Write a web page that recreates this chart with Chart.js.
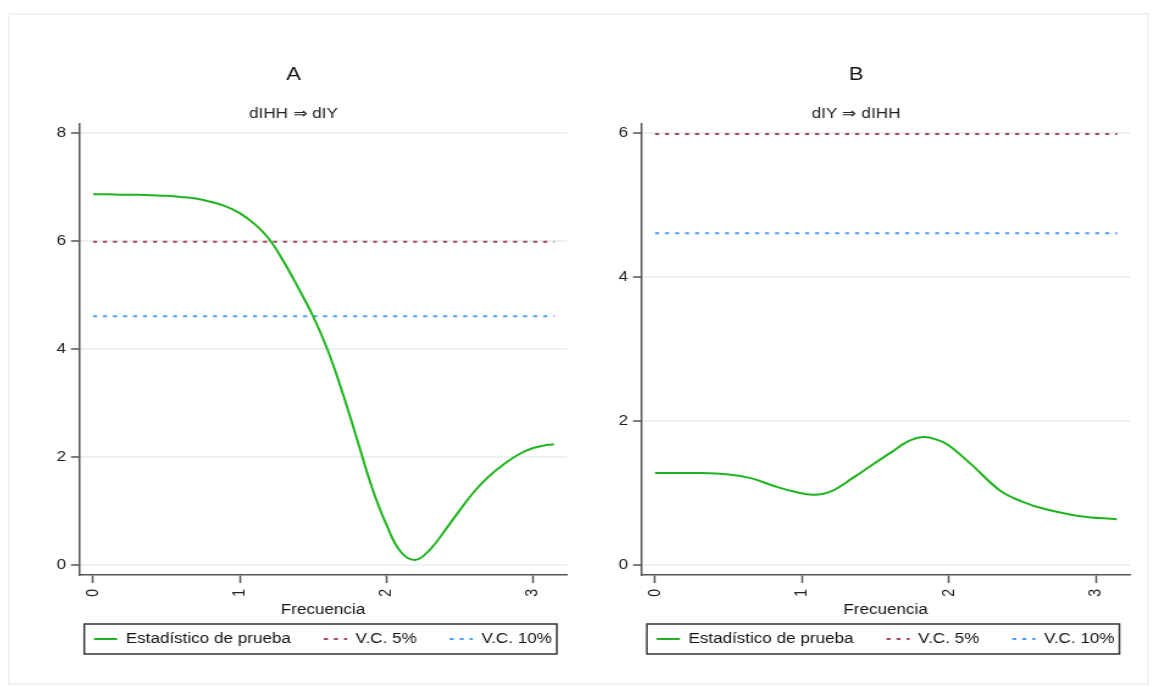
<!DOCTYPE html>
<html>
<head>
<meta charset="utf-8">
<script src="https://cdn.jsdelivr.net/npm/chart.js@4"></script>
<style>
    body { margin: 0; background: #fff; width: 1157px; height: 687px; position: relative; overflow: hidden; }
    #frame { position: absolute; left: 8px; top: 13px; width: 1141px; height: 672px; border: 2px solid #eef2f2; box-sizing: border-box; }
    /* the original picture is stretched sideways, so each panel is drawn narrow and widened */
    .panel { position: absolute; top: 50px; height: 620px; transform: scaleX(1.22); transform-origin: 0 0; }
    #panelA { left: 20px; width: 463px; }
    #panelB { left: 582px; width: 464px; }
</style>
</head>
<body>
<div id="frame"></div>
<div class="panel" id="panelA"><canvas id="chartA"></canvas></div>
<div class="panel" id="panelB"><canvas id="chartB"></canvas></div>
<script>
// frequencies and test statistic, panel A (dIHH => dIY)
const freqA = [0, 0.1, 0.2, 0.3, 0.4, 0.5, 0.6, 0.7, 0.8, 0.9, 1.0, 1.1, 1.2, 1.3, 1.4, 1.5, 1.6, 1.7, 1.8, 1.9, 2.0, 2.1, 2.2, 2.3, 2.4, 2.5, 2.6, 2.7, 2.8, 2.9, 3.0, 3.1, 3.14];
const statA = [6.87, 6.87, 6.86, 6.86, 6.85, 6.84, 6.82, 6.79, 6.73, 6.65, 6.52, 6.32, 6.04, 5.62, 5.13, 4.61, 3.98, 3.2, 2.33, 1.45, 0.75, 0.24, 0.1, 0.3, 0.65, 1.02, 1.37, 1.65, 1.87, 2.05, 2.17, 2.23, 2.24];

// panel B (dIY => dIHH)
const freqB = [0, 0.3, 0.5, 0.65, 0.81, 0.95, 1.08, 1.2, 1.35, 1.48, 1.6, 1.72, 1.82, 1.92, 2.0, 2.15, 2.35, 2.5, 2.65, 2.89, 3.14];
const statB = [1.28, 1.28, 1.26, 1.21, 1.1, 1.02, 0.98, 1.03, 1.22, 1.4, 1.56, 1.72, 1.78, 1.74, 1.66, 1.4, 1.03, 0.88, 0.78, 0.68, 0.64];

// critical values
const cv5 = 5.99;
const cv10 = 4.61;
const freqRange = [0, 3.14159];

const xTicks = [0, 1, 2, 3];
const yTicksA = [0, 2, 4, 6, 8];
const yTicksB = [0, 2, 4, 6];

const labels = ["Estadístico de prueba", "V.C. 5%", "V.C. 10%"];

const FONT = "Arial, 'Liberation Sans', sans-serif";

// moves the legend right under the axis title, centred on the plot
const legendShift = {
    id: "legendShift",
    afterLayout(chart) {
        const lg = chart.legend;
        const ca = chart.chartArea;
        const dy = (ca.bottom + 57) - (lg.top + lg.options.labels.padding);
        lg.top += dy;
        lg.bottom += dy;
        const dx = (ca.left + ca.right) / 2 - (lg.left + lg.right) / 2;
        lg.left += dx;
        lg.right += dx;
    }
};

// draws the frame around the legend
const legendBox = {
    id: "legendBox",
    afterDraw(chart) {
        const hb = chart.legend.legendHitBoxes;
        if (!hb || !hb.length) return;
        let l = Math.min(...hb.map(h => h.left));
        let r = Math.max(...hb.map(h => h.left + h.width));
        let t = Math.min(...hb.map(h => h.top));
        let b = Math.max(...hb.map(h => h.top + h.height));
        const ctx = chart.ctx;
        ctx.save();
        ctx.strokeStyle = "#333";
        ctx.lineWidth = 1.5;
        ctx.setLineDash([]);
        ctx.strokeRect(l - 8, t - 8, r - l + 12, b - t + 16);
        ctx.restore();
    }
};

function makeChart(id, title, subtitle, freq, stat, yTicks, yMax) {
    const pad = 10 / ((574 - 132) / yMax); // axis margin in data units
    const ctx = document.getElementById(id).getContext("2d");
    return new Chart(ctx, {
        type: "line",
        data: {
            datasets: [
                {
                    label: labels[0],
                    data: freq.map((f, i) => ({ x: f, y: stat[i] })),
                    borderColor: "#1fb41f",
                    borderWidth: 2,
                    pointRadius: 0,
                    tension: 0.4
                },
                {
                    label: labels[1],
                    data: freqRange.map(f => ({ x: f, y: cv5 })),
                    borderColor: "#a4475a",
                    borderWidth: 2,
                    borderDash: [3.3, 4.9],
                    pointRadius: 0
                },
                {
                    label: labels[2],
                    data: freqRange.map(f => ({ x: f, y: cv10 })),
                    borderColor: "#4a9cff",
                    borderWidth: 2,
                    borderDash: [3.3, 4.9],
                    pointRadius: 0
                }
            ]
        },
        options: {
            responsive: true,
            maintainAspectRatio: false,
            animation: false,
            layout: { padding: { right: 14.7, left: 0, top: 0, bottom: 0 } },
            plugins: {
                title: {
                    display: true,
                    text: title,
                    color: "#111",
                    font: { family: FONT, size: 18, weight: "normal" },
                    padding: { top: 14, bottom: 20 }
                },
                subtitle: {
                    display: true,
                    text: subtitle,
                    color: "#222",
                    font: { family: FONT, size: 14 },
                    padding: { top: 0, bottom: 1 }
                },
                legend: {
                    position: "bottom",
                    labels: {
                        usePointStyle: true,
                        pointStyle: "line",
                        pointStyleWidth: 19,
                        padding: 27,
                        color: "#111",
                        font: { family: FONT, size: 14 },
                        // keep the dashes and width of each line in its legend sample
                        generateLabels: chart => Chart.defaults.plugins.legend.labels.generateLabels(chart).map(item => {
                            const ds = chart.data.datasets[item.datasetIndex];
                            item.lineDash = ds.borderDash || [];
                            item.lineWidth = ds.borderWidth;
                            item.strokeStyle = ds.borderColor;
                            return item;
                        })
                    }
                },
                tooltip: { enabled: false }
            },
            scales: {
                x: {
                    type: "linear",
                    min: -0.095,
                    max: 3.23,
                    afterBuildTicks: s => { s.ticks = xTicks.map(v => ({ value: v })); },
                    afterFit: s => { s.height = 44; },
                    grid: { drawOnChartArea: false, tickLength: 8, tickColor: "#555", tickWidth: 1.5 },
                    border: { color: "#555", width: 1.5 },
                    ticks: { minRotation: 90, maxRotation: 90, color: "#222", padding: 6, font: { family: FONT, size: 14 } },
                    title: { display: true, text: "Frecuencia", color: "#111", font: { family: FONT, size: 14 }, padding: { top: 0, bottom: 0 } }
                },
                y: {
                    min: -pad,
                    max: yMax + pad,
                    afterBuildTicks: s => { s.ticks = yTicks.map(v => ({ value: v })); },
                    afterFit: s => { s.width = 48.4; },
                    grid: { color: "#edf1f4", lineWidth: 2, tickLength: 6.6, tickColor: "#555", tickWidth: 1.5 },
                    border: { color: "#555", width: 1.5 },
                    ticks: { color: "#222", padding: 4, font: { family: FONT, size: 14 } }
                }
            }
        },
        plugins: [legendShift, legendBox]
    });
}

makeChart("chartA", "A", "dIHH ⇒ dIY", freqA, statA, yTicksA, 8);
makeChart("chartB", "B", "dIY ⇒ dIHH", freqB, statB, yTicksB, 6);
</script>
</body>
</html>
